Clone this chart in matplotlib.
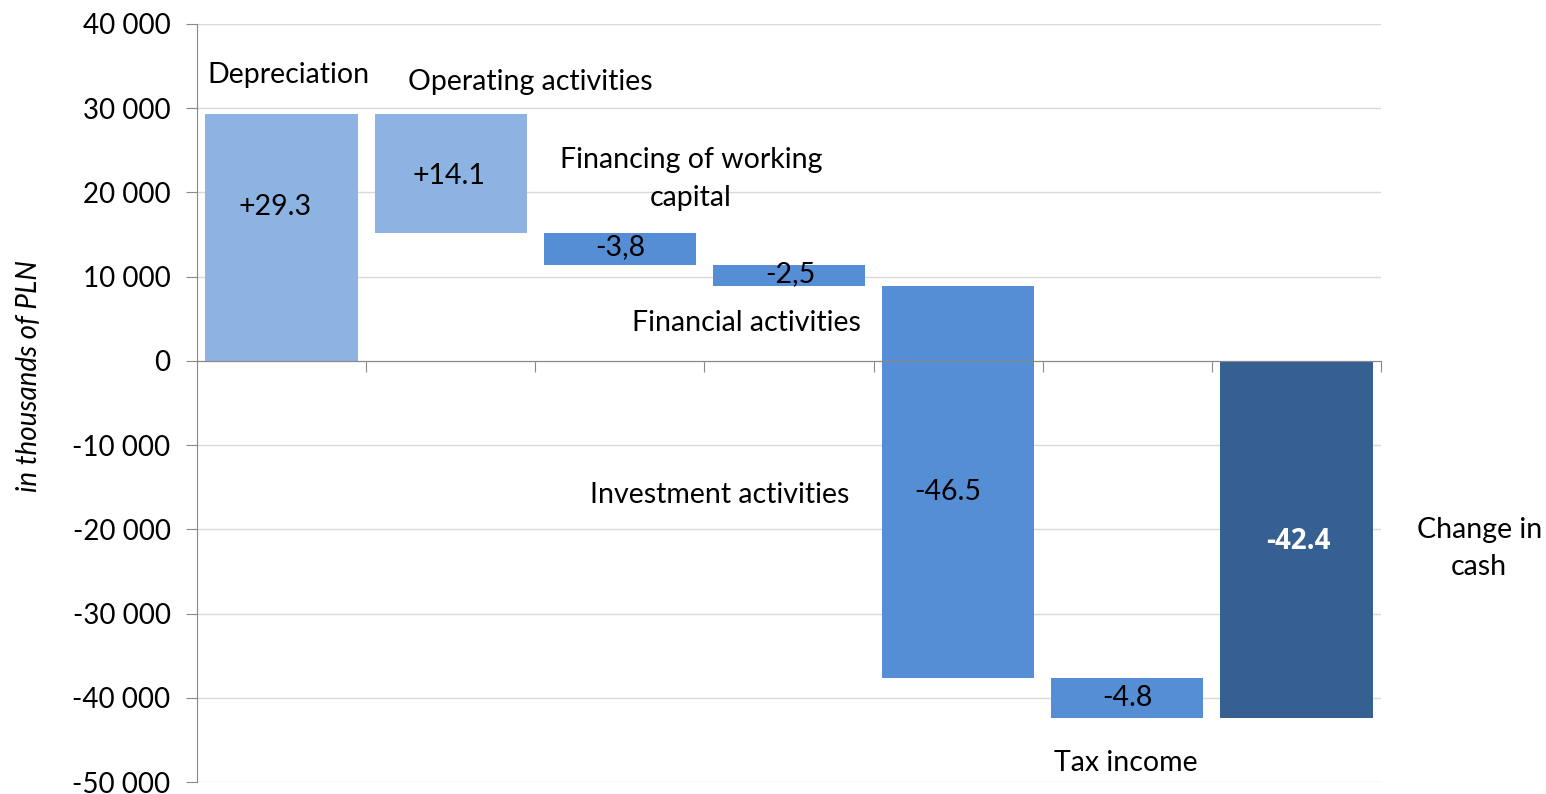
import numpy as np
import matplotlib.pyplot as plt
from matplotlib.ticker import FuncFormatter, FixedLocator

# Waterfall steps (values in PLN thousands, as drawn on the axis)
bar_tops = [29300, 29300, 15200, 11400, 8900, -37600, 0]
bar_bottoms = [0, 15200, 11400, 8900, -37600, -42400, -42400]
bar_colors = ["#8DB3E2", "#8DB3E2", "#558ED5", "#558ED5", "#558ED5", "#558ED5", "#376092"]

# value labels inside bars: (x, y, text)
value_labels = [(-0.04, 18300, "+29.3"), (0.99, 22000, "+14.1"), (2.0, 13500, "-3,8"),
                (3.01, 10300, "-2,5"), (3.94, -15600, "-46.5"), (5.0, -40000, "-4.8")]
# category names placed around the bars
name_labels = [(0.04, 34000, "Depreciation"), (1.47, 33100, "Operating activities"),
               (2.42, 21600, "Financing of working\ncapital"), (2.75, 4500, "Financial activities"),
               (2.59, -15900, "Investment activities"), (4.99, -47700, "Tax income"),
               (7.08, -22300, "Change in\ncash")]

plt.rcParams['font.family'] = ['Lato', 'DejaVu Sans']

fig = plt.figure(figsize=(15.46, 7.94), dpi=100)
ax = fig.add_axes([0.1274, 0.0151, 0.7659, 0.9547])

x = np.arange(len(bar_tops))
heights = np.array(bar_tops) - np.array(bar_bottoms)
ax.bar(x, heights, bottom=bar_bottoms, width=0.9, color=bar_colors, zorder=3)

ax.set_xlim(-0.5, len(bar_tops) - 0.5)
ax.set_ylim(-50000, 40000)
ax.set_yticks(np.arange(-50000, 40001, 10000))
ax.yaxis.set_major_formatter(FuncFormatter(lambda v, p: f"{int(v):,}".replace(",", " ")))
ax.tick_params(axis='y', labelsize=20, length=8, color="#888888", pad=11)
ax.grid(axis='y', color="#D9D9D9", lw=1, zorder=0)

ax.xaxis.set_major_locator(FixedLocator(np.arange(0.5, len(bar_tops), 1)))
ax.tick_params(axis='x', labelbottom=False, length=8, color="#888888", direction='out')
ax.spines['bottom'].set_position(('data', 0))
for s in ['top', 'right']:
    ax.spines[s].set_visible(False)
for s in ['left', 'bottom']:
    ax.spines[s].set_color("#888888")
    ax.spines[s].set_zorder(4)

for lx, ly, t in value_labels:
    ax.text(lx, ly, t, ha='center', va='center', fontsize=20.5, zorder=5)
ax.text(6.01, -21400, "-42.4", ha='center', va='center', fontsize=20,
        color='white', fontweight='bold', family=['Open Sans', 'DejaVu Sans'], zorder=5)
for lx, ly, t in name_labels:
    ax.text(lx, ly, t, ha='center', va='center', fontsize=20.5, linespacing=1.55,
            zorder=5, clip_on=False)

fig.text(0.019, 0.527, "in thousands of PLN", rotation=90, ha='center', va='center',
         fontsize=20, style='italic')

fig.savefig("out.png", dpi=100)
